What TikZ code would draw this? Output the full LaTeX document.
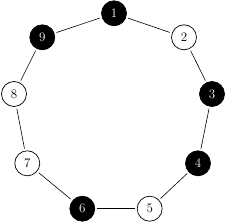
\documentclass[tikz,border=0pt]{standalone}
\begin{document}
\begin{tikzpicture}[x=1pt,y=-1pt,
  vtx/.style={circle,draw=black,line width=0.7pt,minimum size=25pt,inner sep=0pt,outer sep=2.5pt,font=\fontsize{13}{15}\selectfont},
  blk/.style={vtx,fill=black,text=white},
  wht/.style={vtx,fill=white,text=black},
  edge/.style={line width=0.6pt}]
\useasboundingbox (0,0) rectangle (225,222);
\node[blk] (n1) at (114,13.3) {1};
\node[wht] (n2) at (184,37.3) {2};
\node[blk] (n3) at (212,94) {3};
\node[blk] (n4) at (198,163.3) {4};
\node[wht] (n5) at (149.7,208.7) {5};
\node[blk] (n6) at (82.3,208.7) {6};
\node[wht] (n7) at (27.3,163.3) {7};
\node[wht] (n8) at (14,94) {8};
\node[blk] (n9) at (42.3,37.3) {9};
\draw[edge] (n1) -- (n2);
\draw[edge] (n2) -- (n3);
\draw[edge] (n3) -- (n4);
\draw[edge] (n4) -- (n5);
\draw[edge] (n5) -- (n6);
\draw[edge] (n6) -- (n7);
\draw[edge] (n7) -- (n8);
\draw[edge] (n8) -- (n9);
\draw[edge] (n9) -- (n1);
\end{tikzpicture}
\end{document}
